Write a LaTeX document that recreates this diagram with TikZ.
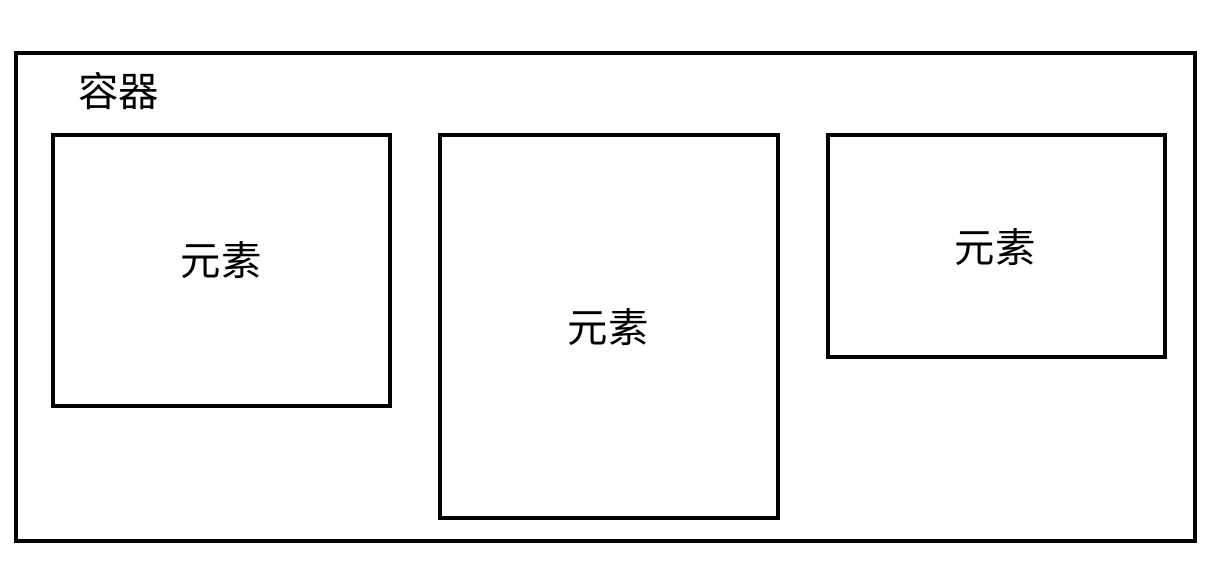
\documentclass[tikz,border=0pt]{standalone}
\usepackage{fontspec}
\newfontfamily\cjk{Noto Sans CJK SC}
\usepackage{tikz}
\tikzset{
	box/.style={line width=1.85pt},
	lbl/.style={font=\cjk\fontsize{23}{28}\selectfont, inner sep=0pt}
}

\begin{document}
\begin{tikzpicture}[x=0.02cm, y=-0.02cm]
		%%%%% START %%%%%
		\useasboundingbox (0, 0) rectangle (1228, 571);
		
		\draw[box] (16, 53) rectangle (1195, 541);
		\node[lbl] (container) at (119, 91) {容器};
		
		\draw[box] (53, 135) rectangle (390, 406);
		\node[lbl] (elemA) at (221, 260) {元素};
		
		\draw[box] (440, 135) rectangle (778, 518);
		\node[lbl] (elemB) at (608, 327) {元素};
		
		\draw[box] (828, 135) rectangle (1165, 357);
		\node[lbl] (elemC) at (995, 247) {元素};
		%%%%% END %%%%%
	\end{tikzpicture}
\end{document}
